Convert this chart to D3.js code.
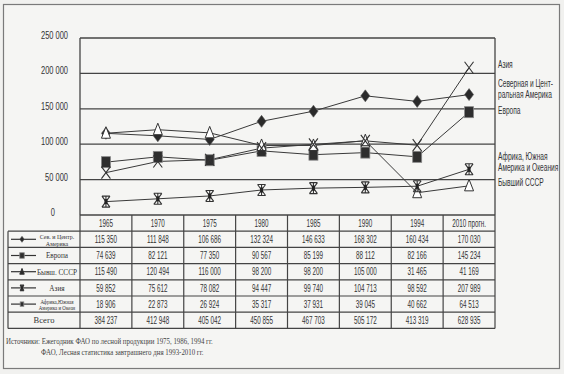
<!DOCTYPE html>
<html>
<head>
<meta charset="utf-8">
<script src="https://cdn.jsdelivr.net/npm/d3@7"></script>
<style>
  body { margin: 0; background: #f1f1ef; }
  svg { display: block; }
  .sans { font-family: "Liberation Sans", Arial, sans-serif; }
  .serif { font-family: "Liberation Serif", "DejaVu Serif", serif; }
</style>
</head>
<body>
<div id="chart"></div>
<script>
// данные из таблицы
const years = ["1965", "1970", "1975", "1980", "1985", "1990", "1994", "2010 прогн."];
const namerica = [115350, 111848, 106686, 132324, 146633, 168302, 160434, 170030];
const europe = [74639, 82121, 77350, 90567, 85199, 88112, 82166, 145234];
const ussr = [115490, 120494, 116000, 98200, 98200, 105000, 31465, 41169];
const asia = [59852, 75612, 78082, 94447, 99740, 104713, 98592, 207989];
const africa = [18906, 22873, 26924, 35317, 37931, 39045, 40662, 64513];
const total = [384237, 412948, 405042, 450855, 467703, 505172, 413319, 628935];
const yticks = [0, 50000, 100000, 150000, 200000, 250000];

const width = 564, height = 374;
const margin = {left: 80, right: 69, top: 38, bottom: 159};
const rowH = 16.2;
const legendX = 8;

const fmt = v => d3.format(",")(v).replace(/,/g, " ");

// сжать текст по ширине (узкий шрифт как в оригинале)
function condense(sel, f) {
  sel.each(function () {
    const l = this.getComputedTextLength();
    d3.select(this).attr("textLength", l * f).attr("lengthAdjust", "spacingAndGlyphs");
  });
}
// то же через transform, для текста слева направо
function narrowText(g, tx, ty, f, str) {
  return g.append("text").attr("transform", `translate(${tx},${ty}) scale(${f},1)`).text(str);
}

const series = [
  {name: "Сев. и Центр.|Америка", values: namerica, marker: "diamond", lm: "diamond", label: ["Северная и Цент-", "ральная Америка"], ly: 87},
  {name: "Европа", values: europe, marker: "square", lm: "square", label: ["Европа"], ly: 114},
  {name: "Бывш. СССР", values: ussr, marker: "triangle", lm: "ftriangle", label: ["Бывший СССР"], ly: 186},
  {name: "Азия", values: asia, marker: "cross", lm: "asterisk", label: ["Азия"], ly: 68},
  {name: "Африка,Южная|Америка и Океан", values: africa, marker: "asterisk", lm: "square", label: ["Африка, Южная", "Америка и Океания"], ly: 160}
];

const svg = d3.select("#chart").append("svg")
  .attr("width", width).attr("height", height);

// фон и рамка страницы
svg.append("rect").attr("x", 3.5).attr("y", 4.5).attr("width", 556).attr("height", 364)
  .attr("fill", "#f5f5f3").attr("stroke", "#7a7a7a").attr("stroke-width", 1.2);

const x = d3.scaleBand().domain(d3.range(years.length))
  .range([margin.left, width - margin.right]);
const y = d3.scaleLinear().domain([0, 250000])
  .range([height - margin.bottom, margin.top]);

const plotBottom = y(0);
const lineCol = "#3a3a3a";

// сетка
svg.append("g").selectAll("line").data(yticks.slice(1)).join("line")
  .attr("x1", margin.left).attr("x2", width - margin.right)
  .attr("y1", d => y(d)).attr("y2", d => y(d))
  .attr("stroke", "#444").attr("stroke-width", 1.3);
svg.append("line").attr("x1", margin.left).attr("x2", margin.left)
  .attr("y1", margin.top).attr("y2", plotBottom).attr("stroke", "#444").attr("stroke-width", 1.3);
svg.append("line").attr("x1", width - margin.right).attr("x2", width - margin.right)
  .attr("y1", margin.top).attr("y2", plotBottom).attr("stroke", "#444").attr("stroke-width", 1.3);

// ось Y
const yAxis = svg.append("g").attr("class", "sans")
  .attr("transform", `translate(${margin.left - 12}, 0)`)
  .call(d3.axisLeft(y).tickValues(yticks).tickFormat(fmt).tickSize(0));
yAxis.select(".domain").remove();
yAxis.selectAll("text").attr("font-size", 11).attr("fill", "#333").attr("dy", "0.05em")
  .attr("x", d => d === 0 ? -13 : 0);
condense(yAxis.selectAll("text"), 0.68);

// линии
const cx = i => x(i) + x.bandwidth() / 2;
const line = d3.line().x((d, i) => cx(i)).y(d => y(d));

series.forEach(s => {
  svg.append("path").datum(s.values)
    .attr("fill", "none").attr("stroke", lineCol).attr("stroke-width", 1)
    .attr("d", line);
});

function drawMarker(g, type, px, py, sc) {
  sc = sc || 1;
  if (type === "diamond") {
    g.append("path").attr("d", `M${px},${py - 6 * sc}L${px + 4.5 * sc},${py}L${px},${py + 6 * sc}L${px - 4.5 * sc},${py}Z`)
      .attr("fill", "#2a2a2a").attr("stroke", "#555").attr("stroke-width", 0.6);
  } else if (type === "square") {
    g.append("rect").attr("x", px - 4.5 * sc).attr("y", py - 5.5 * sc).attr("width", 9 * sc).attr("height", 11 * sc)
      .attr("fill", "#2e2e2e").attr("stroke", "#888").attr("stroke-width", 0.8);
  } else if (type === "triangle" || type === "ftriangle") {
    g.append("path").attr("d", `M${px},${py - 6.5 * sc}L${px + 4.5 * sc},${py + 5 * sc}L${px - 4.5 * sc},${py + 5 * sc}Z`)
      .attr("fill", type === "triangle" ? "#fff" : "#2a2a2a").attr("stroke", "#333").attr("stroke-width", 1);
  } else if (type === "cross") {
    g.append("path").attr("d", `M${px - 4.5 * sc},${py - 6 * sc}L${px + 4.5 * sc},${py + 6 * sc}M${px + 4.5 * sc},${py - 6 * sc}L${px - 4.5 * sc},${py + 6 * sc}`)
      .attr("stroke", "#333").attr("stroke-width", 1.1).attr("fill", "none");
  } else if (type === "asterisk") {
    g.append("path").attr("d", `M${px - 4 * sc},${py - 5.5 * sc}L${px + 4 * sc},${py + 5.5 * sc}M${px + 4 * sc},${py - 5.5 * sc}L${px - 4 * sc},${py + 5.5 * sc}M${px},${py - 6 * sc}L${px},${py + 6 * sc}M${px - 4 * sc},${py - 5.5 * sc}L${px + 4 * sc},${py - 5.5 * sc}M${px - 4 * sc},${py + 5.5 * sc}L${px + 4 * sc},${py + 5.5 * sc}`)
      .attr("stroke", "#333").attr("stroke-width", 1.1).attr("fill", "none");
    g.append("rect").attr("x", px - 1.5 * sc).attr("y", py - 2.5 * sc).attr("width", 3 * sc).attr("height", 5 * sc).attr("fill", "#222");
  }
}

const markers = svg.append("g");
series.forEach(s => {
  s.values.forEach((v, i) => drawMarker(markers, s.marker, cx(i), y(v)));
});

// подписи справа
const rightLab = svg.append("g").attr("class", "sans").attr("font-size", 10).attr("fill", "#333");
series.forEach(s => {
  s.label.forEach((t, k) => {
    narrowText(rightLab, width - margin.right + 3, s.ly + k * 11, 0.66, t);
  });
});

// таблица
const table = svg.append("g");
const rows = series.length + 1;
const tableTop = plotBottom;
const rowY = r => tableTop + rowH * (r + 1);
const tableBottom = rowY(rows);

// горизонтальные линии
table.append("line").attr("x1", margin.left).attr("x2", width - margin.right)
  .attr("y1", tableTop).attr("y2", tableTop).attr("stroke", "#444").attr("stroke-width", 1.3);
d3.range(rows + 1).forEach(r => {
  table.append("line").attr("x1", legendX).attr("x2", width - margin.right)
    .attr("y1", rowY(r)).attr("y2", rowY(r)).attr("stroke", "#444").attr("stroke-width", 1.2);
});
// вертикальные линии
table.append("line").attr("x1", legendX).attr("x2", legendX)
  .attr("y1", rowY(0)).attr("y2", tableBottom).attr("stroke", "#444").attr("stroke-width", 1.2);
d3.range(years.length + 1).forEach(i => {
  const xx = i < years.length ? x(i) : width - margin.right;
  table.append("line").attr("x1", xx).attr("x2", xx)
    .attr("y1", tableTop).attr("y2", tableBottom).attr("stroke", "#444").attr("stroke-width", 1.2);
});

// заголовки лет
const hdr = table.append("g").attr("class", "sans").selectAll("text").data(years).join("text")
  .attr("x", (d, i) => cx(i)).attr("y", tableTop + rowH / 2 + 3.5)
  .attr("text-anchor", "middle").attr("font-size", 10.5).attr("fill", "#333")
  .text(d => d);
condense(hdr, 0.6);

// значения
const allRows = series.map(s => s.values).concat([total]);
allRows.forEach((vals, r) => {
  const t = table.append("g").attr("class", "sans").selectAll("text").data(vals).join("text")
    .attr("x", (d, i) => cx(i)).attr("y", rowY(r) + rowH / 2 + 3.7)
    .attr("text-anchor", "middle").attr("font-size", 10.5).attr("fill", "#333")
    .text(d => fmt(d));
  condense(t, 0.6);
});

// легенда в первой колонке
series.forEach((s, r) => {
  const my = rowY(r) + rowH / 2;
  table.append("line").attr("x1", 11).attr("x2", 36).attr("y1", my).attr("y2", my)
    .attr("stroke", "#333").attr("stroke-width", 1.2);
  drawMarker(table, s.lm, 22, my, r === 4 ? 0.4 : 0.5);
  const parts = s.name.split("|");
  const fs = parts.length > 1 ? (r === 4 ? 5.8 : 7) : 8.5;
  const gap = parts.length > 1 ? (r === 4 ? 6 : 7.2) : 0;
  parts.forEach((t, k) => {
    const tx = table.append("text").attr("class", "serif")
      .attr("x", 57).attr("y", my + 2.8 + (k - (parts.length - 1) / 2) * gap)
      .attr("text-anchor", "middle").attr("font-size", fs).attr("fill", "#333").text(t);
    condense(tx, 0.85);
  });
});
table.append("text").attr("class", "serif").attr("x", 44).attr("y", rowY(series.length) + rowH / 2 + 3)
  .attr("text-anchor", "middle").attr("font-size", 8.5).attr("fill", "#333").text("Всего");

// источники
const src = svg.append("g").attr("class", "serif").attr("font-size", 8.2).attr("fill", "#444");
narrowText(src, 6, 344, 0.84, "Источники: Ежегодник ФАО по лесной продукции 1975, 1986, 1994 гг.");
narrowText(src, 41, 355, 0.84, "ФАО, Лесная статистика завтрашнего дня 1993-2010 гг.");
</script>
</body>
</html>
